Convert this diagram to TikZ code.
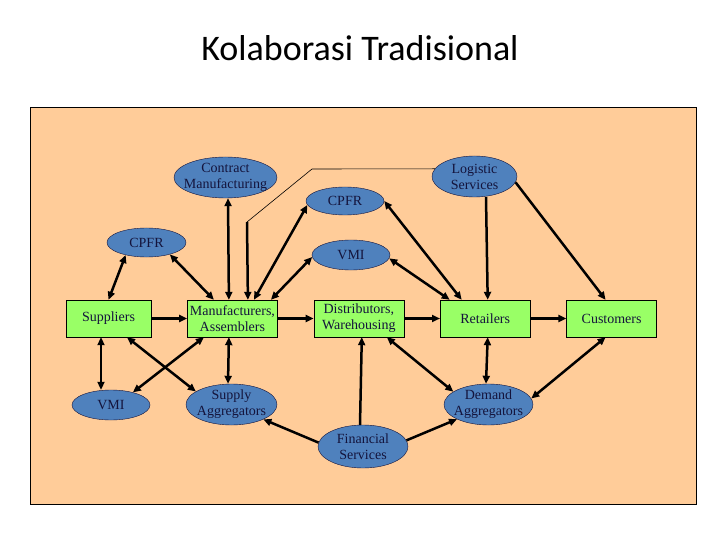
\documentclass[tikz,border=0pt]{standalone}
\usepackage{fontspec}
\setmainfont{Liberation Serif}
\newfontfamily\titlefont{Carlito}
\usetikzlibrary{arrows.meta,positioning,shapes.geometric}
\definecolor{kpeach}{HTML}{FFCC99}
\definecolor{kblue}{HTML}{4F81BD}
\definecolor{kgreen}{HTML}{99FF66}
\definecolor{knavy}{HTML}{14143C}
\tikzset{
  flowbox/.style={draw=black,fill=kgreen,align=center,inner sep=1pt,font=\fontsize{14}{16}\selectfont,text=knavy,minimum width=90pt,minimum height=37pt},
  ellnode/.style={ellipse,draw=knavy,fill=kblue,inner sep=0pt,minimum width=90pt,minimum height=41pt},
  lbl/.style={font=\fontsize{14}{16}\selectfont,text=knavy,align=center,inner sep=0pt},
  ar/.style={-{Triangle[length=8pt,width=7pt]},draw=black,line width=2.5pt},
  dar/.style={{Triangle[length=8pt,width=7pt]}-{Triangle[length=8pt,width=7pt]},draw=black,line width=2.5pt},
  thinln/.style={draw=black,line width=0.6pt},
}
\begin{document}
\begin{tikzpicture}[x=1pt,y=-1pt]
    \useasboundingbox (0,0) rectangle (720,540);
    \node[font=\titlefont\fontsize{36}{40}\selectfont] (title) at (360,48) {Kolaborasi Tradisional};
    \draw[fill=kpeach,line width=1pt] (30,108) rectangle (696,504);
    % chain of boxes
    \node[flowbox,minimum width=85pt] (sup) at (108.5,318.5) {Suppliers};
    \node[flowbox,right=36pt of sup] (mfr) {Manufacturers,\\Assemblers};
    \node[flowbox,right=36pt of mfr] (dist) {Distributors,\\Warehousing};
    \node[flowbox,right=36pt of dist] (ret) {Retailers};
    \node[flowbox,right=36pt of ret] (cus) {Customers};
    % ellipses
    \node[ellnode,minimum width=103pt,label={[lbl]center:{Contract\\Manufacturing}}] (cm) at (225.5,177.5) {};
    \node[ellnode,minimum width=78pt,minimum height=28pt,label={[lbl]center:CPFR}] (cpfrt) at (345,201) {};
    \node[ellnode,minimum width=78pt,minimum height=30pt,label={[lbl]center:VMI}] (vmit) at (351,255) {};
    \node[ellnode,minimum width=85pt,label={[lbl]center:{Logistic\\Services}}] (logs) at (474.5,176.5) {};
    \node[ellnode,minimum width=79pt,minimum height=29pt,label={[lbl]center:CPFR}] (cpfrl) at (146.5,242.5) {};
    \node[ellnode,minimum width=78pt,minimum height=30pt,label={[lbl]center:VMI}] (vmib) at (111,405) {};
    \node[ellnode,minimum width=91pt,label={[lbl]center:{Supply\\Aggregators}}] (sagg) at (231.5,404.5) {};
    \node[ellnode,minimum width=89pt,label={[lbl]center:{Demand\\Aggregators}}] (dagg) at (488.5,404.5) {};
    \node[ellnode,minimum height=43pt,label={[lbl]center:{Financial\\Services}}] (fin) at (363,446.5) {};
    \coordinate (bend1) at (312,169);
    \coordinate (bend2) at (247,222);
    % flow along the chain
    \draw[ar] (sup) -- (mfr);
    \draw[ar] (mfr) -- (dist);
    \draw[ar] (dist) -- (ret);
    \draw[ar] (ret) -- (cus);
    % upper links
    \draw[dar] (cpfrl.211) -- (sup.north);
    \draw[dar] (cpfrl.333) -- ([xshift=-18.5pt]mfr.north);
    \draw[dar] ([xshift=2.5pt]cm.south) -- ([xshift=-3.5pt]mfr.north);
    \draw[thinln] (logs.169) -- (bend1) -- (bend2);
    \draw[ar] (bend2) -- ([xshift=15.5pt]mfr.north);
    \draw[dar] ([xshift=21.5pt]mfr.north) -- (cpfrt.186);
    \draw[dar] ([xshift=38.5pt]mfr.north) -- (vmit.183);
    \draw[dar] (cpfrt.east) -- ([xshift=-23.5pt]ret.north);
    \draw[dar] (vmit.355) -- ([xshift=-35.5pt]ret.north);
    \draw[ar] ([xshift=11.5pt]logs.south) -- ([xshift=2.5pt]ret.north);
    \draw[ar] (logs.352) -- ([xshift=-6pt]cus.north);
    % lower links
    \draw[dar] ([xshift=-7.5pt]sup.south) -- ([xshift=-10pt]vmib.north);
    \draw[dar] ([xshift=18.5pt]sup.south) -- (sagg.160);
    \draw[dar] ([xshift=-28.5pt]mfr.south) -- (vmib.30);
    \draw[dar] ([xshift=-3.5pt]mfr.south) -- ([xshift=-3.5pt]sagg.north);
    \draw[ar] (fin.175) -- (sagg.335);
    \draw[ar] (fin.8) -- (dagg.205);
    \draw[ar] ([xshift=-3pt]fin.north) -- ([xshift=3pt]dist.south);
    \draw[dar] ([xshift=28pt]dist.south) -- (dagg.160);
    \draw[dar] ([xshift=2.5pt]ret.south) -- ([xshift=-2.5pt]dagg.north);
    \draw[dar] ([xshift=-6pt]cus.south) -- (dagg.8);
\end{tikzpicture}
\end{document}
